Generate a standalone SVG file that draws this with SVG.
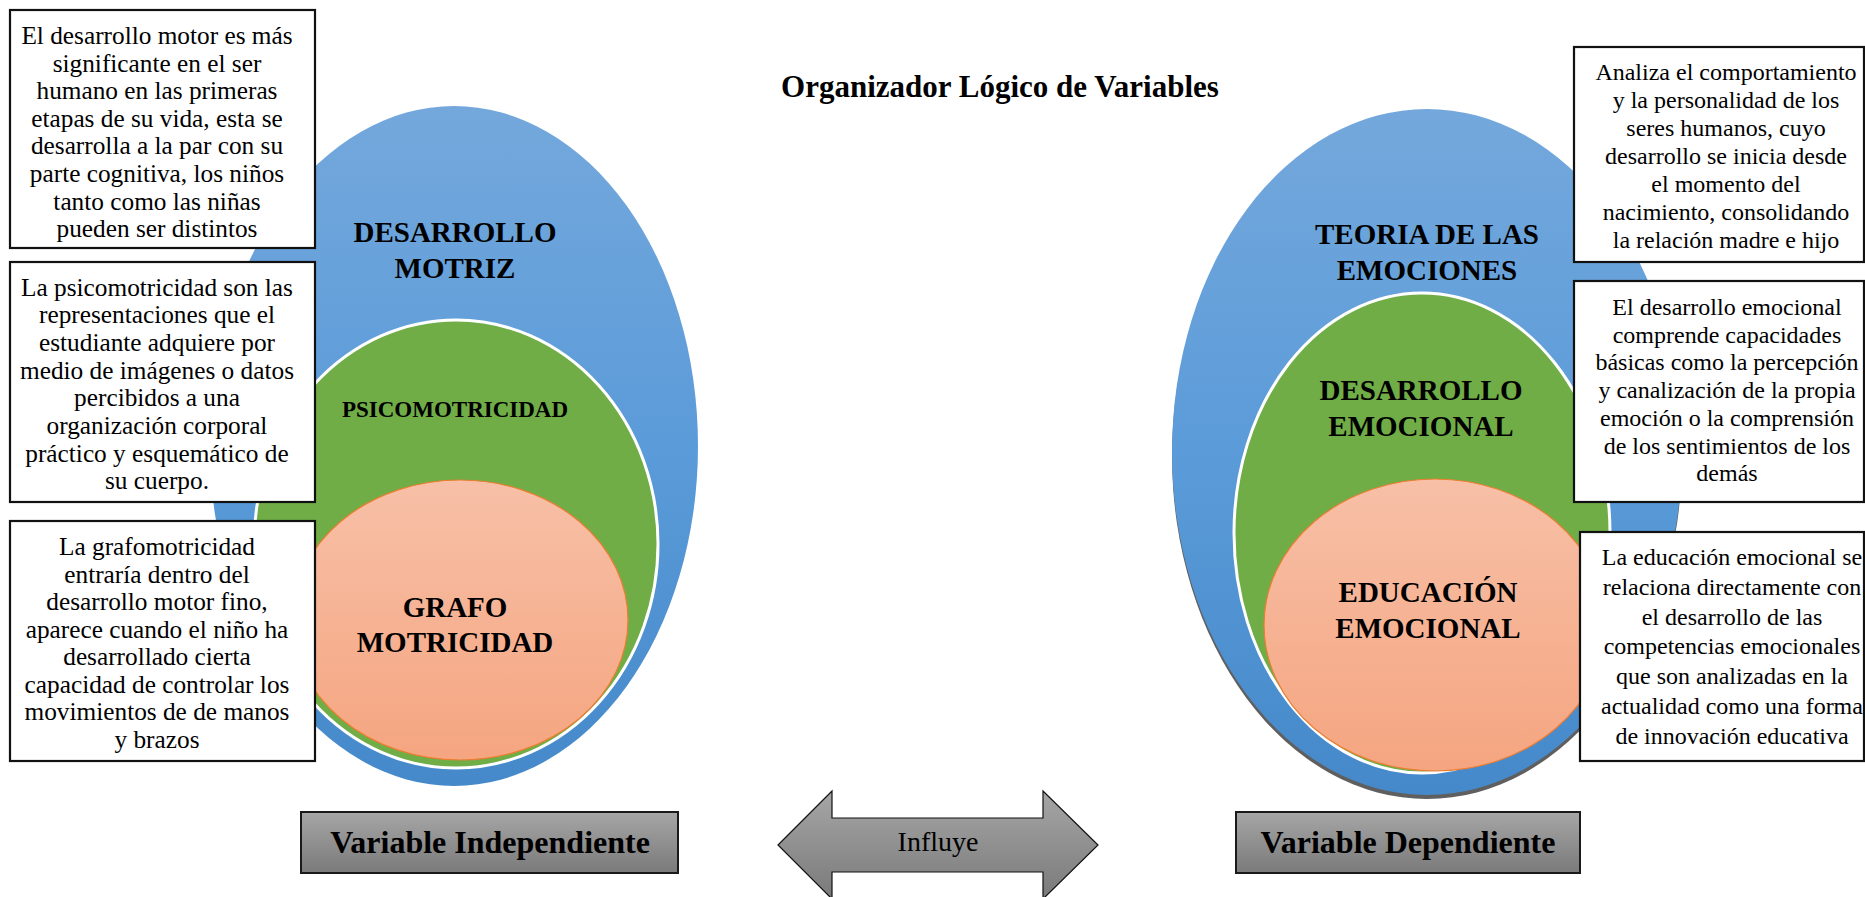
<svg xmlns="http://www.w3.org/2000/svg" width="1865" height="897" viewBox="0 0 1865 897">
  <defs>
    <linearGradient id="gBlue" x1="0" y1="0" x2="0" y2="1">
      <stop offset="0" stop-color="#74a8dc"/>
      <stop offset="0.5" stop-color="#5b9bd9"/>
      <stop offset="1" stop-color="#4589ca"/>
    </linearGradient>
    <linearGradient id="gSalmon" x1="0" y1="0" x2="0" y2="1">
      <stop offset="0" stop-color="#f7c0a7"/>
      <stop offset="1" stop-color="#f5a580"/>
    </linearGradient>
    <linearGradient id="gGray" x1="0" y1="0" x2="0" y2="1">
      <stop offset="0" stop-color="#a6a6a6"/>
      <stop offset="1" stop-color="#7a7a7a"/>
    </linearGradient>
  </defs>
  <style>
    .box { fill: #ffffff; stroke: #111111; stroke-width: 2.2; }
    .txt { font-family: "Liberation Serif", "Times New Roman", serif; font-size: 24px; fill: #000; text-anchor: middle; }
    .txtL { font-family: "Liberation Serif", "Times New Roman", serif; font-size: 25.3px; fill: #000; text-anchor: middle; }
    .lbl { font-family: "Liberation Serif", "Times New Roman", serif; font-size: 29px; font-weight: bold; fill: #000; text-anchor: middle; }
    .lblS { font-family: "Liberation Serif", "Times New Roman", serif; font-size: 23px; font-weight: bold; fill: #000; text-anchor: middle; }
    .blue { fill: url(#gBlue); }
    .green { fill: #70ad47; stroke: #ffffff; stroke-width: 3; }
    .salmon { fill: url(#gSalmon); stroke: #ed7d31; stroke-width: 1.2; }
    .var { fill: url(#gGray); stroke: #1a1a1a; stroke-width: 2; }
    .vtxt { font-family: "Liberation Serif", "Times New Roman", serif; font-size: 32px; font-weight: bold; fill: #000; text-anchor: middle; }
  </style>
  <rect width="1865" height="897" fill="#ffffff"/>

  <text x="1000" y="97" font-family="Liberation Serif, Times New Roman, serif" font-size="31" font-weight="bold" text-anchor="middle">Organizador Lógico de Variables</text>

  <g id="left-ellipses">
    <ellipse class="blue" cx="454" cy="446" rx="244" ry="340"/>
    <ellipse class="green" cx="456" cy="544" rx="202" ry="224"/>
    <ellipse class="salmon" cx="460" cy="620" rx="168" ry="140"/>
    <text class="lbl" x="455" y="242">DESARROLLO</text>
    <text class="lbl" x="455" y="278">MOTRIZ</text>
    <text class="lblS" x="455" y="417">PSICOMOTRICIDAD</text>
    <text class="lbl" x="455" y="617">GRAFO</text>
    <text class="lbl" x="455" y="652">MOTRICIDAD</text>
  </g>

  <g id="right-ellipses">
    <ellipse cx="1427" cy="456" rx="255" ry="343" fill="#5f5f5f"/>
    <ellipse class="blue" cx="1427" cy="452" rx="255" ry="343"/>
    <ellipse class="green" cx="1422" cy="533" rx="188" ry="240"/>
    <ellipse class="salmon" cx="1435" cy="625" rx="171" ry="146"/>
    <text class="lbl" x="1427" y="244">TEORIA DE LAS</text>
    <text class="lbl" x="1427" y="280">EMOCIONES</text>
    <text class="lbl" x="1421" y="400">DESARROLLO</text>
    <text class="lbl" x="1421" y="436">EMOCIONAL</text>
    <text class="lbl" x="1428" y="602">EDUCACIÓN</text>
    <text class="lbl" x="1428" y="638">EMOCIONAL</text>
  </g>

  <g id="box-left-1">
    <rect class="box" x="10" y="10" width="305" height="238"/>
    <text class="txtL" x="157" y="44">El desarrollo motor es más</text>
    <text class="txtL" x="157" y="71.6">significante en el ser</text>
    <text class="txtL" x="157" y="99.2">humano en las primeras</text>
    <text class="txtL" x="157" y="126.8">etapas de su vida, esta se</text>
    <text class="txtL" x="157" y="154.4">desarrolla a la par con su</text>
    <text class="txtL" x="157" y="182">parte cognitiva, los niños</text>
    <text class="txtL" x="157" y="209.6">tanto como las niñas</text>
    <text class="txtL" x="157" y="237.2">pueden ser distintos</text>
  </g>

  <g id="box-left-2">
    <rect class="box" x="10" y="262" width="305" height="240"/>
    <text class="txtL" x="157" y="295.5">La psicomotricidad son las</text>
    <text class="txtL" x="157" y="323.2">representaciones que el</text>
    <text class="txtL" x="157" y="350.9">estudiante adquiere por</text>
    <text class="txtL" x="157" y="378.6">medio de imágenes o datos</text>
    <text class="txtL" x="157" y="406.3">percibidos a una</text>
    <text class="txtL" x="157" y="434">organización corporal</text>
    <text class="txtL" x="157" y="461.7">práctico y esquemático de</text>
    <text class="txtL" x="157" y="489.4">su cuerpo.</text>
  </g>

  <g id="box-left-3">
    <rect class="box" x="10" y="521" width="305" height="240"/>
    <text class="txtL" x="157" y="555">La grafomotricidad</text>
    <text class="txtL" x="157" y="582.5">entraría dentro del</text>
    <text class="txtL" x="157" y="610">desarrollo motor fino,</text>
    <text class="txtL" x="157" y="637.5">aparece cuando el niño ha</text>
    <text class="txtL" x="157" y="665">desarrollado cierta</text>
    <text class="txtL" x="157" y="692.5">capacidad de controlar los</text>
    <text class="txtL" x="157" y="720">movimientos de de manos</text>
    <text class="txtL" x="157" y="747.5">y brazos</text>
  </g>

  <g id="box-right-1">
    <rect class="box" x="1574" y="47" width="290" height="215"/>
    <text class="txt" x="1726" y="80">Analiza el comportamiento</text>
    <text class="txt" x="1726" y="108">y la personalidad de los</text>
    <text class="txt" x="1726" y="136">seres humanos, cuyo</text>
    <text class="txt" x="1726" y="164">desarrollo se inicia desde</text>
    <text class="txt" x="1726" y="192">el momento del</text>
    <text class="txt" x="1726" y="220">nacimiento, consolidando</text>
    <text class="txt" x="1726" y="248">la relación madre e hijo</text>
  </g>

  <g id="box-right-2">
    <rect class="box" x="1574" y="281" width="290" height="221"/>
    <text class="txt" x="1727" y="315">El desarrollo emocional</text>
    <text class="txt" x="1727" y="342.7">comprende capacidades</text>
    <text class="txt" x="1727" y="370.4">básicas como la percepción</text>
    <text class="txt" x="1727" y="398.1">y canalización de la propia</text>
    <text class="txt" x="1727" y="425.8">emoción o la comprensión</text>
    <text class="txt" x="1727" y="453.5">de los sentimientos de los</text>
    <text class="txt" x="1727" y="481.2">demás</text>
  </g>

  <g id="box-right-3">
    <rect class="box" x="1580" y="532" width="284" height="229"/>
    <text class="txt" x="1732" y="565">La educación emocional se</text>
    <text class="txt" x="1732" y="594.8">relaciona directamente con</text>
    <text class="txt" x="1732" y="624.6">el desarrollo de las</text>
    <text class="txt" x="1732" y="654.4">competencias emocionales</text>
    <text class="txt" x="1732" y="684.2">que son analizadas en la</text>
    <text class="txt" x="1732" y="714">actualidad como una forma</text>
    <text class="txt" x="1732" y="743.8">de innovación educativa</text>
  </g>

  <g id="var-independiente">
    <rect class="var" x="301" y="812" width="377" height="61"/>
    <text class="vtxt" x="490" y="853">Variable Independiente</text>
  </g>

  <g id="var-dependiente">
    <rect class="var" x="1236" y="812" width="344" height="61"/>
    <text class="vtxt" x="1408" y="853">Variable Dependiente</text>
  </g>

  <g id="connectors">
    <path d="M778,845 L832,791 L832,818 L1043,818 L1043,791 L1098,845 L1043,899 L1043,872 L832,872 L832,899 Z" fill="url(#gGray)" stroke="#111111" stroke-width="1.2"/>
    <text x="938" y="851" font-family="Liberation Serif, Times New Roman, serif" font-size="28" text-anchor="middle">Influye</text>
  </g>
</svg>
